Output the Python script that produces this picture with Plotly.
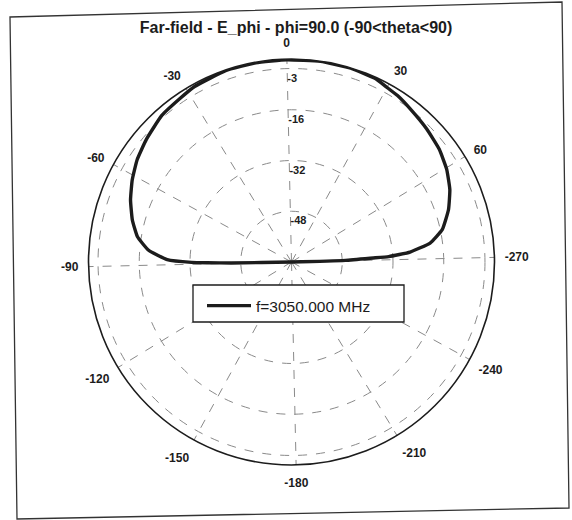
import plotly.graph_objects as go

# ---- data ----
theta_deg = [-90, -89.6, -89.2, -88.9, -87.6, -84.0, -79.4, -73.9, -67.6, -61.4,
             -55.1, -48.5, -40.2, -33.0, -27.6, -17.7, -8.9, 0.0, 9.5, 18.3,
             26.0, 29.6, 33.8, 39.0, 46.7, 53.9, 60.4, 66.7, 72.8, 79.2,
             83.5, 86.5, 88.1, 88.5, 89.6, 90]
gain_db = [-64, -45, -37.4, -32.5, -24.8, -18.8, -14.8, -12.1, -9.6, -7.5,
           -5.6, -4.1, -2.3, -1.6, -0.8, -0.2, -0.2, -0.2, -0.1, -0.1,
           -0.4, -1.2, -1.8, -2.9, -4.2, -5.4, -7.0, -9.1, -11.8, -15.4,
           -19.9, -26.5, -33.3, -38.2, -47, -64]
series_name = "f=3050.000 MHz"
angle_tickvals = [0, 30, 60, 90, 120, 150, 180, 210, 240, 270, 300, 330]
angle_ticktext = ["0", "30", "60", "-270", "-240", "-210", "-180", "-150", "-120", "-90", "-60", "-30"]
radial_tickvals = [-48, -32, -16, -3]
radial_ticktext = ["-48", "-32", "-16", "-3"]
radial_range = [-64, 0]
title_text = "Far-field - E_phi - phi=90.0 (-90<theta<90)"

W, H = 572, 520


def px(x, y):
    return x / W, 1 - y / H


cx, cy, R = 291.5, 262.0, 203
tilt = 1.3
label_drop_db = 3.3  # radial tick labels sit just below their grid circle

fig = go.Figure()
fig.add_trace(go.Scatterpolar(
    r=gain_db, theta=theta_deg, mode="lines", name=series_name,
    line=dict(color="#1c1c1c", width=3.4, shape="spline", smoothing=0.4),
    showlegend=True, hoverinfo="skip",
))
# radial tick labels (placed through the radial scale, below each circle)
fig.add_trace(go.Scatterpolar(
    r=[v - label_drop_db for v in radial_tickvals], theta=[0] * len(radial_tickvals),
    mode="text", text=radial_ticktext, textposition="middle right",
    textfont=dict(size=11, weight="bold", color="#1c1c1c"),
    showlegend=False, hoverinfo="skip",
))

# border around the (scanned, slightly tilted) page
corners = [px(10, 17), px(562, 2), px(569, 508), px(17, 519)]
path = "M " + " L ".join(f"{a:.5f},{b:.5f}" for a, b in corners) + " Z"

lx0, ly0 = px(193, 285)
lx1, ly1 = px(404, 322)

fig.update_layout(
    width=W, height=H,
    margin=dict(l=0, r=0, t=0, b=0),
    paper_bgcolor="white",
    font=dict(family="Liberation Sans, Arial, sans-serif", color="#1c1c1c"),
    title=dict(text=title_text, x=296 / W, y=1 - 27 / H, xanchor="center", yanchor="middle",
               font=dict(size=16, weight="bold", family="Liberation Sans, Arial, sans-serif")),
    polar=dict(
        domain=dict(x=[(cx - R) / W, (cx + R) / W], y=[1 - (cy + R) / H, 1 - (cy - R) / H]),
        bgcolor="white",
        angularaxis=dict(
            rotation=90 + tilt, direction="clockwise",
            tickmode="array", tickvals=angle_tickvals, ticktext=angle_ticktext,
            showline=True, linecolor="#1c1c1c", linewidth=1.6,
            showgrid=True, gridcolor="#8a8a8a", gridwidth=1, griddash="dash",
            ticks="outside", ticklen=7, tickcolor="rgba(0,0,0,0)",
            tickfont=dict(size=12, weight="bold"),
        ),
        radialaxis=dict(
            range=radial_range, tickmode="array", tickvals=radial_tickvals, ticktext=radial_ticktext,
            angle=90 + tilt, showticklabels=False,
            showline=False, ticks="",
            showgrid=True, gridcolor="#8a8a8a", gridwidth=1, griddash="dash",
        ),
    ),
    legend=dict(x=202 / W, y=1 - 306 / H, xanchor="left", yanchor="middle",
                bgcolor="rgba(0,0,0,0)", borderwidth=0, font=dict(size=15.5), itemwidth=44),
    shapes=[
        dict(type="path", path=path, xref="paper", yref="paper",
             line=dict(color="#333", width=1.3), layer="above"),
        dict(type="rect", xref="paper", yref="paper", x0=lx0, y0=ly0, x1=lx1, y1=ly1,
             line=dict(color="#1c1c1c", width=1.3), fillcolor="white", layer="above"),
    ],
)

fig.write_html("out.html", config={"displayModeBar": False},
               post_script="document.body.style.margin='0px';")
